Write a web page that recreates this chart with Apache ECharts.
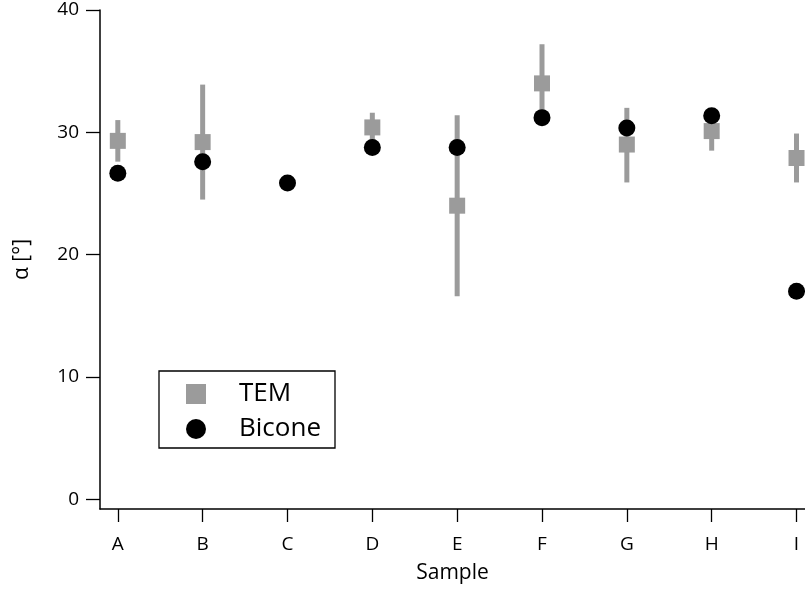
<!DOCTYPE html>
<html><head><meta charset="utf-8">
<script src="https://cdn.jsdelivr.net/npm/echarts@6/dist/echarts.min.js"></script>
<style>html,body{margin:0;padding:0;background:#fff}#c{width:805px;height:589px}</style>
</head><body><div id="c"></div>
<script>
const categories = ['A','B','C','D','E','F','G','H','I'];
const temValue = [29.3, 29.2, null, 30.4, 24.0, 34.0, 29.0, 30.1, 27.9];
const temLow   = [27.6, 24.5, null, 29.0, 16.6, 31.0, 25.9, 28.5, 25.9];
const temHigh  = [31.0, 33.9, null, 31.6, 31.4, 37.2, 32.0, 31.0, 29.9];
const biconeValue = [26.65, 27.6, 25.85, 28.75, 28.75, 31.2, 30.35, 31.35, 17.0];
const yTicks = [0, 10, 20, 30, 40];

const idx = categories.map((c, i) => i);
const temData = idx.filter(i => temValue[i] != null).map(i => [i, temValue[i]]);
const errData = idx.filter(i => temValue[i] != null).map(i => [i, temLow[i], temHigh[i]]);
const biconeData = idx.map(i => [i, biconeValue[i]]);

const font = 'Open Sans';
const chart = echarts.init(document.getElementById('c'));
chart.setOption({
  animation: false,
  backgroundColor: '#fff',
  textStyle: {fontFamily: font},
  grid: {left: 100, right: 0, top: 10, bottom: 79},
  legend: {
    left: 159, top: 371, orient: 'vertical',
    borderColor: '#000', borderWidth: 1.3, borderRadius: 0,
    padding: [10, 14, 6, 27],
    itemWidth: 20, itemHeight: 20, itemGap: 9,
    textStyle: {fontFamily: font, fontSize: 26, color: '#000', padding: [0, 0, 0, 28]},
    data: [{name: 'TEM', icon: 'rect'}, {name: 'Bicone', icon: 'circle'}]
  },
  xAxis: {
    type: 'value', min: -0.21, max: 8.1,
    name: 'Sample', nameLocation: 'middle', nameGap: 54,
    nameTextStyle: {fontFamily: font, fontSize: 21, color: '#000'},
    splitLine: {show: false},
    axisLine: {show: true, onZero: false, lineStyle: {color: '#000', width: 1.5}},
    axisTick: {show: true, length: 13, customValues: idx, lineStyle: {color: '#000', width: 1.3}},
    axisLabel: {customValues: idx, margin: 26, fontFamily: font, fontSize: 19, color: '#000',
      formatter: v => categories[Math.round(v)]}
  },
  yAxis: {
    type: 'value', min: -0.8, max: 40,
    name: 'α [°]', nameLocation: 'middle', nameGap: 67, nameRotate: 90,
    nameTextStyle: {fontFamily: font, fontSize: 21, color: '#000'},
    splitLine: {show: false},
    axisLine: {show: true, onZero: false, lineStyle: {color: '#000', width: 1.5}},
    axisTick: {show: true, length: 14, customValues: yTicks, lineStyle: {color: '#000', width: 1.3}},
    axisLabel: {customValues: yTicks, margin: 21, fontFamily: font, fontSize: 19, color: '#000'}
  },
  series: [
    {
      type: 'custom', name: 'TEMerr', data: errData, z: 1,
      renderItem: (params, api) => {
        const lo = api.coord([api.value(0), api.value(1)]);
        const hi = api.coord([api.value(0), api.value(2)]);
        return {type: 'line', shape: {x1: lo[0], y1: lo[1], x2: hi[0], y2: hi[1]},
          style: {stroke: '#9b9b9b', lineWidth: 5}};
      }
    },
    {type: 'scatter', name: 'TEM', data: temData, symbol: 'rect', symbolSize: 16,
      itemStyle: {color: '#9b9b9b', opacity: 1}, z: 2},
    {type: 'scatter', name: 'Bicone', data: biconeData, symbol: 'circle', symbolSize: 17,
      itemStyle: {color: '#000', opacity: 1}, z: 3}
  ]
});
</script></body></html>
